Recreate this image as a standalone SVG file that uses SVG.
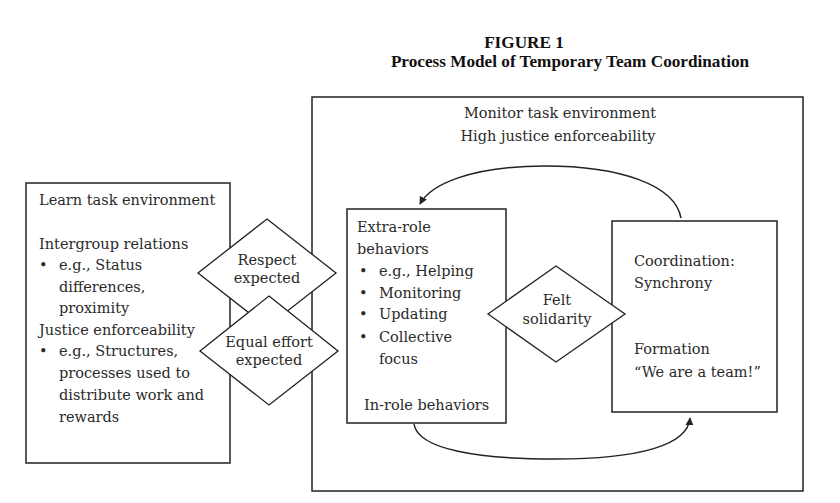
<svg xmlns="http://www.w3.org/2000/svg" width="840" height="503" viewBox="0 0 840 503">
<defs>
<style>
.box{fill:#fff;stroke:#222;stroke-width:1.5}
.dia{fill:#fff;stroke:#222;stroke-width:1.3}
.t{font-family:"DejaVu Serif","Liberation Serif",serif;font-size:14.5px;fill:#2a2a2a}
.c{text-anchor:middle}
.title{font-family:"Liberation Serif","DejaVu Serif",serif;font-size:17.2px;font-weight:bold;fill:#111;text-anchor:middle}
.arc{fill:none;stroke:#222;stroke-width:1.5}
</style>
<marker id="ah" viewBox="0 0 10 10" refX="9" refY="5" markerWidth="8" markerHeight="8" orient="auto" markerUnits="userSpaceOnUse">
<path d="M0,0 L10,5 L0,10 z" fill="#222"/>
</marker>
</defs>
<rect width="840" height="503" fill="#fff"/>
<g id="title">
<text class="title" x="524" y="48">FIGURE 1</text>
<text class="title" x="570" y="67">Process Model of Temporary Team Coordination</text>
</g>
<g id="monitor">
<rect class="box" x="312" y="97" width="491" height="394"/>
<text class="t c" x="560" y="118">Monitor task environment</text>
<text class="t c" x="558" y="141">High justice enforceability</text>
</g>
<g id="learn">
<rect class="box" x="26" y="183" width="204" height="280"/>
<text class="t" x="39" y="205">Learn task environment</text>
<text class="t" x="39" y="249">Intergroup relations</text>
<text class="t" x="39" y="270">•</text>
<text class="t" x="59" y="270">e.g., Status</text>
<text class="t" x="59" y="292">differences,</text>
<text class="t" x="59" y="313">proximity</text>
<text class="t" x="39" y="335">Justice enforceability</text>
<text class="t" x="39" y="356">•</text>
<text class="t" x="59" y="356">e.g., Structures,</text>
<text class="t" x="59" y="378">processes used to</text>
<text class="t" x="59" y="400">distribute work and</text>
<text class="t" x="59" y="422">rewards</text>
</g>
<g id="extra">
<rect class="box" x="347" y="209" width="159" height="214"/>
<text class="t" x="357" y="232">Extra-role</text>
<text class="t" x="357" y="254">behaviors</text>
<text class="t" x="359" y="276">•</text>
<text class="t" x="379" y="276">e.g., Helping</text>
<text class="t" x="359" y="298">•</text>
<text class="t" x="379" y="298">Monitoring</text>
<text class="t" x="359" y="319">•</text>
<text class="t" x="379" y="319">Updating</text>
<text class="t" x="359" y="342">•</text>
<text class="t" x="379" y="342">Collective</text>
<text class="t" x="379" y="364">focus</text>
<text class="t" x="364" y="410">In-role behaviors</text>
</g>
<g id="coord">
<rect class="box" x="612" y="221" width="165" height="191"/>
<text class="t" x="634" y="266">Coordination:</text>
<text class="t" x="634" y="288">Synchrony</text>
<text class="t" x="634" y="354">Formation</text>
<text class="t" x="634" y="377">“We are a team!”</text>
</g>
<g id="respect">
<polygon class="dia" points="267,219 336,273 267,327 198,273"/>
<text class="t c" x="267" y="265">Respect</text>
<text class="t c" x="267" y="283">expected</text>
</g>
<g id="effort">
<polygon class="dia" points="269,296 338,351 269,405 200,351"/>
<text class="t c" x="269" y="347">Equal effort</text>
<text class="t c" x="269" y="365">expected</text>
</g>
<g id="felt">
<polygon class="dia" points="556,266 625,314 556,362 488,314"/>
<text class="t c" x="557" y="305">Felt</text>
<text class="t c" x="557" y="324">solidarity</text>
</g>
<g id="connectors">
<path class="arc" d="M681,218 C675,185 620,166 545,166 C470,166 430,185 420,204" marker-end="url(#ah)"/>
<path class="arc" d="M414,424 C418,450 480,459 555,459 C640,459 688,445 690,418" marker-end="url(#ah)"/>
</g>
</svg>
